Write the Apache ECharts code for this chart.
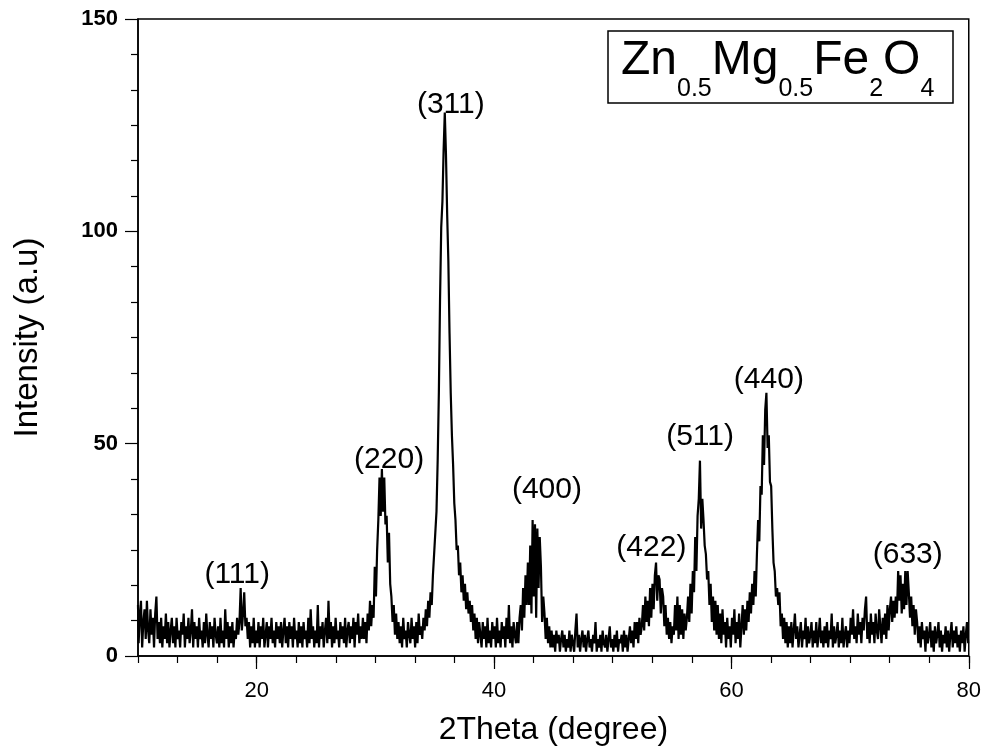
<!DOCTYPE html>
<html>
<head>
<meta charset="utf-8">
<script src="https://cdn.jsdelivr.net/npm/echarts@6/dist/echarts.min.js"></script>
<style>
  html, body { margin: 0; padding: 0; background: #fff; }
  #chart { width: 984px; height: 751px; }
</style>
</head>
<body>
<div id="chart"></div>
<script>
// scan grid: 10..80 deg, 0.1 deg per point
const TWO_THETA_START = 10
const TWO_THETA_STEP = 0.1

// intensity, one row per degree (x.0 .. x.9)
const INTENSITY = [
  12, 3, 9, 13, 2, 8, 11, 4, 13, 6,
  3, 11, 5, 9, 2, 10, 14, 4, 8, 3,
  9, 2, 7, 4, 10, 3, 8, 2, 6, 9,
  3, 7, 2, 9, 4, 6, 2, 8, 5, 10,
  2, 7, 4, 9, 3, 6, 11, 2, 8, 4,
  7, 2, 9, 4, 6, 2, 8, 3, 10, 5,
  2, 8, 4, 7, 2, 9, 5, 3, 7, 2,
  9, 3, 6, 2, 11, 4, 8, 2, 7, 3,
  8, 2, 6, 4, 9, 5, 8, 16, 6, 10,
  15, 7, 9, 4, 8, 2, 7, 3, 9, 2,
  6, 3, 8, 2, 7, 4, 9, 2, 5, 8,
  2, 7, 4, 9, 3, 6, 2, 8, 4, 7,
  3, 8, 2, 6, 9, 3, 7, 2, 8, 4,
  7, 2, 9, 4, 6, 2, 8, 3, 7, 2,
  8, 4, 6, 2, 9, 3, 11, 4, 7, 2,
  6, 3, 12, 2, 7, 4, 8, 2, 6, 9,
  3, 13, 4, 8, 2, 7, 3, 9, 4, 6,
  2, 8, 4, 7, 3, 9, 2, 6, 8, 3,
  7, 4, 9, 2, 8, 5, 10, 3, 7, 4,
  9, 4, 8, 3, 10, 6, 13, 7, 12, 9,
  21, 14, 25, 32, 42, 33, 44, 34, 42, 31,
  33, 22, 29, 17, 14, 8, 12, 5, 10, 4,
  8, 3, 7, 2, 9, 4, 6, 2, 8, 5,
  3, 9, 4, 7, 2, 8, 3, 10, 5, 7,
  4, 9, 6, 11, 7, 13, 9, 15, 12, 19,
  24, 29, 34, 46, 62, 84, 101, 107, 119, 128,
  118, 104, 93, 76, 62, 52, 45, 36, 32, 25,
  26, 19, 22, 15, 19, 13, 17, 11, 15, 10,
  13, 8, 12, 6, 10, 4, 9, 3, 8, 5,
  2, 8, 4, 7, 2, 9, 3, 6, 2, 8,
  4, 7, 2, 9, 3, 6, 2, 8, 4, 7,
  2, 9, 4, 12, 3, 7, 2, 8, 5, 3,
  8, 3, 9, 12, 6, 16, 9, 19, 12, 22,
  12, 26, 10, 32, 14, 31, 9, 30, 16, 28,
  21, 8, 14, 10, 4, 9, 3, 7, 2, 6,
  2, 5, 1, 6, 3, 5, 1, 4, 6, 2,
  5, 1, 4, 2, 6, 1, 5, 3, 1, 6,
  10, 2, 5, 1, 4, 6, 2, 5, 1, 4,
  6, 2, 4, 1, 5, 3, 8, 1, 4, 2,
  5, 1, 6, 3, 2, 5, 1, 4, 7, 2,
  4, 1, 5, 2, 6, 1, 4, 3, 5, 1,
  6, 2, 5, 1, 4, 7, 3, 6, 2, 8,
  4, 8, 3, 9, 5, 7, 12, 6, 14, 8,
  13, 7, 16, 9, 17, 11, 19, 22, 13, 19,
  18, 10, 16, 14, 7, 12, 5, 9, 4, 8,
  3, 7, 5, 12, 6, 14, 4, 12, 5, 11,
  4, 10, 6, 9, 14, 8, 17, 10, 20, 15,
  28, 20, 33, 37, 46, 30, 37, 32, 26, 24,
  18, 20, 12, 17, 8, 14, 6, 13, 5, 12,
  4, 10, 3, 11, 5, 8, 2, 9, 4, 7,
  2, 9, 5, 11, 3, 8, 4, 10, 2, 7,
  12, 5, 11, 6, 13, 8, 15, 10, 17, 12,
  20, 14, 24, 32, 27, 40, 38, 52, 45, 58,
  62, 49, 52, 41, 40, 30, 22, 20, 14, 16,
  12, 15, 7, 10, 4, 9, 3, 8, 2, 7,
  3, 8, 2, 6, 10, 4, 7, 2, 5, 8,
  2, 6, 4, 9, 2, 7, 3, 5, 8, 2,
  6, 3, 8, 2, 5, 9, 3, 6, 2, 7,
  3, 8, 2, 6, 4, 10, 2, 7, 3, 5,
  8, 2, 6, 3, 9, 2, 5, 7, 2, 6,
  3, 9, 5, 11, 4, 7, 3, 10, 5, 8,
  3, 9, 6, 11, 14, 4, 8, 3, 10, 5,
  8, 3, 10, 6, 4, 11, 7, 3, 9, 5,
  10, 4, 12, 6, 11, 14, 8, 13, 9, 14,
  10, 20, 13, 19, 10, 17, 11, 20, 12, 20,
  15, 9, 14, 7, 12, 5, 11, 8, 3, 7,
  2, 8, 4, 6, 1, 7, 3, 5, 8, 2,
  6, 1, 7, 3, 5, 8, 2, 6, 1, 5,
  3, 7, 2, 6, 1, 5, 8, 2, 6, 3,
  7, 2, 5, 1, 6, 3, 7, 1, 5, 8,
  3,
]

// hkl labels and where they sit (data coords)
const PEAK_LABELS = ['(111)', '(220)', '(311)', '(400)', '(422)', '(511)', '(440)', '(633)']
const PEAK_LABEL_X = [18.4, 31.2, 36.4, 44.5, 53.3, 57.4, 63.2, 74.9]
const PEAK_LABEL_Y = [19.1, 46.1, 129.7, 39.1, 25.4, 51.6, 65.0, 23.8]

const X_MAJOR_TICKS = [20, 40, 60, 80]

// Zn0.5Mg0.5Fe2O4 as [element, subscript]
const FORMULA = [['Zn', '0.5'], ['Mg', '0.5'], ['Fe', '2'], ['O', '4']]

const FONT = '"Liberation Sans", Arial, sans-serif'
const AXIS_COLOR = '#000'

const chart = echarts.init(document.getElementById('chart'))

const seriesData = INTENSITY.map((v, i) => [
  +(TWO_THETA_START + i * TWO_THETA_STEP).toFixed(1),
  v,
])

// title box: lay the formula out piece by piece
const measureCtx = document.createElement('canvas').getContext('2d')
function textWidth(text, size) {
  measureCtx.font = `${size}px ${FONT}`
  return measureCtx.measureText(text).width
}

const MAIN_SIZE = 48
const SUB_SIZE = 25
const formulaParts = []
let cursor = 621
for (const [el, sub] of FORMULA) {
  formulaParts.push({
    type: 'text', x: cursor, y: 61, z: 11,
    style: { text: el, fontSize: MAIN_SIZE, fontFamily: FONT, fill: '#000', verticalAlign: 'middle' },
  })
  cursor += textWidth(el, MAIN_SIZE)
  formulaParts.push({
    type: 'text', x: cursor, y: 89, z: 11,
    style: { text: sub, fontSize: SUB_SIZE, fontFamily: FONT, fill: '#000', verticalAlign: 'middle' },
  })
  cursor += textWidth(sub, SUB_SIZE)
}

chart.setOption({
  animation: false,
  backgroundColor: '#fff',
  grid: {
    left: 138, right: 11, top: 19, bottom: 95,
    show: true, borderColor: AXIS_COLOR, borderWidth: 1.5,
  },
  xAxis: [
    {
      // minor ticks + axis line
      type: 'value', min: 10, max: 80, interval: 10 / 3,
      axisLine: { show: true, lineStyle: { color: AXIS_COLOR, width: 1.5 } },
      axisTick: { show: true, length: 7, lineStyle: { color: AXIS_COLOR, width: 1.2 } },
      axisLabel: { show: false },
      splitLine: { show: false },
    },
    {
      // major ticks + labels
      type: 'value', min: 10, max: 80, position: 'bottom',
      axisLine: { show: false },
      axisTick: { show: true, customValues: X_MAJOR_TICKS, length: 13, lineStyle: { color: AXIS_COLOR, width: 1.2 } },
      axisLabel: {
        show: true, customValues: X_MAJOR_TICKS, margin: 24,
        color: '#000', fontSize: 22, fontFamily: FONT,
      },
      splitLine: { show: false },
      name: '2Theta (degree)',
      nameLocation: 'middle',
      nameGap: 58,
      nameTextStyle: { color: '#000', fontSize: 32, fontFamily: FONT },
    },
  ],
  yAxis: {
    type: 'value', min: 0, max: 150, interval: 50,
    axisLine: { show: true, lineStyle: { color: AXIS_COLOR, width: 1.5 } },
    axisTick: { show: true, length: 13, lineStyle: { color: AXIS_COLOR, width: 1.2 } },
    minorTick: { show: true, splitNumber: 6, length: 7, lineStyle: { color: AXIS_COLOR, width: 1.2 } },
    axisLabel: { margin: 20, color: '#000', fontSize: 22, fontWeight: 'bold', fontFamily: FONT },
    splitLine: { show: false },
    minorSplitLine: { show: false },
    name: 'Intensity (a.u)',
    nameLocation: 'middle',
    nameGap: 94,
    nameTextStyle: { color: '#000', fontSize: 33, fontFamily: FONT },
  },
  series: [
    {
      type: 'line',
      xAxisIndex: 0,
      data: seriesData,
      step: 'middle',
      showSymbol: false,
      sampling: null,
      lineStyle: { color: '#000', width: 2.2 },
      z: 3,
    },
    {
      type: 'scatter',
      xAxisIndex: 0,
      symbolSize: 1,
      itemStyle: { color: 'rgba(0,0,0,0)', opacity: 1 },
      silent: true,
      z: 4,
      label: {
        show: true,
        position: [0, 0],
        align: 'center',
        verticalAlign: 'middle',
        formatter: (p) => PEAK_LABELS[p.dataIndex],
        color: '#000',
        opacity: 1,
        fontSize: 30,
        fontFamily: FONT,
      },
      data: PEAK_LABEL_X.map((x, i) => [x, PEAK_LABEL_Y[i]]),
    },
  ],
  graphic: [
    {
      type: 'rect', z: 10,
      shape: { x: 608, y: 31, width: 345, height: 72 },
      style: { fill: '#fff', stroke: '#000', lineWidth: 1.5 },
    },
    ...formulaParts,
  ],
})
</script>
</body>
</html>
